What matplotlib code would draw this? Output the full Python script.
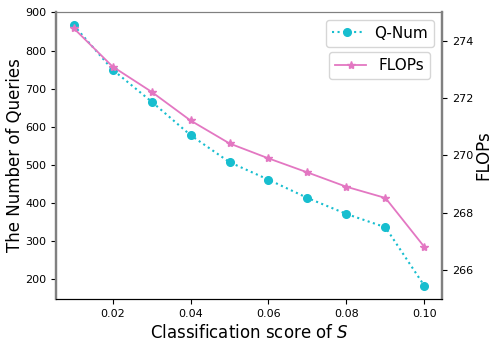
import matplotlib
matplotlib.use("Agg")
import matplotlib.pyplot as plt

scores = [0.01, 0.02, 0.03, 0.04, 0.05, 0.06, 0.07, 0.08, 0.09, 0.10]
qnum = [867, 750, 666, 578, 507, 461, 413, 371, 336, 182]
flops = [274.44, 273.10, 272.22, 271.22, 270.42, 269.90, 269.41, 268.91, 268.52, 266.81]
xticks = [0.02, 0.04, 0.06, 0.08, 0.10]
xticklabels = ["0.02", "0.04", "0.06", "0.08", "0.10"]

fig = plt.figure(figsize=(4.98, 3.45), dpi=100)
W, H = 498, 345
l, r, t, b = 56, 442, 12, 299
ax = fig.add_axes([l / W, (H - b) / H, (r - l) / W, (b - t) / H])
ax2 = ax.twinx()

ax.plot(scores, qnum, linestyle=":", color="#17becf", marker="o", markersize=5.5,
        linewidth=1.5, label="Q-Num")
ax2.plot(scores, flops, linestyle="-", color="#e377c2", marker="*", markersize=6,
         linewidth=1.3, label="FLOPs")

ax.set_xticks(xticks)
ax.set_xticklabels(xticklabels)
ax.set_yticks([200, 300, 400, 500, 600, 700, 800, 900])
ax2.set_yticks([266, 268, 270, 272, 274])
ax2.set_ylim(265, 275)
ax.tick_params(labelsize=8)
ax2.tick_params(labelsize=8)

ax.set_xlabel("Classification score of $S$", fontsize=12)
ax.set_ylabel("The Number of Queries", fontsize=12, labelpad=1)
ax2.set_ylabel("FLOPs", fontsize=12, labelpad=1)

for a in (ax, ax2):
    a.spines["left"].set_color("gray")
    a.spines["left"].set_linewidth(1.6)
    a.spines["right"].set_color("gray")
    a.spines["right"].set_linewidth(1.6)
    a.spines["top"].set_color("gray")
    a.spines["bottom"].set_color("black")

ax.legend(loc="upper right", fontsize=11)
ax2.legend(loc="upper right", fontsize=11, borderaxespad=0,
           bbox_to_anchor=((430 - l) / (r - l), (b - 52) / (b - t)))

fig.savefig("out.png", dpi=100)
